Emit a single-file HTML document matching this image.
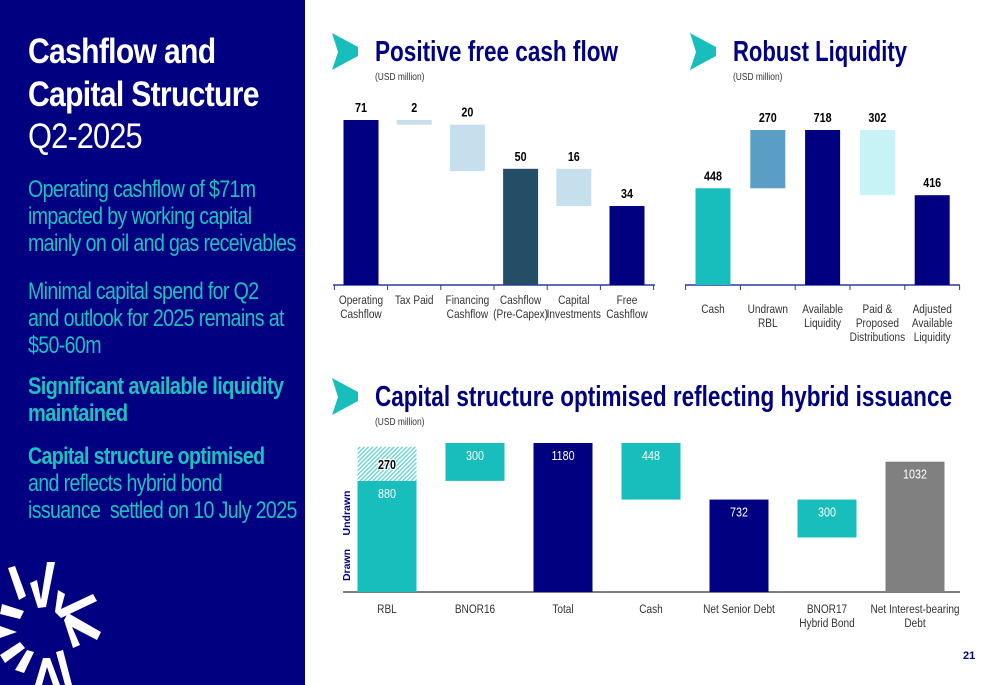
<!DOCTYPE html>
<html><head><meta charset="utf-8">
<style>
html,body{margin:0;padding:0;width:1000px;height:685px;overflow:hidden;background:#fff;font-family:"Liberation Sans",sans-serif}
#left{position:absolute;left:0;top:0;width:305px;height:685px;background:#000080;overflow:hidden}
.t{position:absolute;white-space:nowrap;transform-origin:0 0}
.title{left:28px;color:#fff;font-weight:bold;font-size:35px;letter-spacing:-0.8px;transform:scaleX(0.86)}
.q{left:28px;color:#fff;font-size:35px;letter-spacing:-1px;transform:scaleX(0.88)}
.body{left:28px;color:#1DBFBF;font-size:24.5px;letter-spacing:-0.8px;line-height:27px;transform:scaleX(0.8)}
.bold{font-weight:bold}
svg text{font-family:"Liberation Sans",sans-serif}
</style></head><body>
<div id="left">
 <div class="t title" style="top:32px">Cashflow and</div>
 <div class="t title" style="top:75px">Capital Structure</div>
 <div class="t q" style="top:117px">Q2-2025</div>
 <div class="t body" style="top:176px">Operating cashflow of $71m<br>impacted by working capital<br>mainly on oil and gas receivables</div>
 <div class="t body" style="top:278px">Minimal capital spend for Q2<br>and outlook for 2025 remains at<br>$50-60m</div>
 <div class="t body bold" style="top:373px;transform:scaleX(0.82)">Significant available liquidity<br>maintained</div>
 <div class="t body" style="top:443px"><span class="bold">Capital structure optimised</span><br>and reflects hybrid bond<br>issuance&nbsp; settled on 10 July 2025</div>
 <svg width="305" height="685" style="position:absolute;left:0;top:0">
  <g fill="#fff">
   <polygon points="8,568 15,566 26,596 19,600"/>
   <polygon points="30,583 37,580 41,600 47,562 55,562 46,607 38,608"/>
   <polygon points="58,590 65,594 61,609 93,594 97,601 61,618 55,612"/>
   <polygon points="2,604 24,611 20,619 0,614"/>
   <polygon points="0,626 17,632 0,638"/>
   <polygon points="64,620 68,613 101,632 97,640 72,627 80,645 73,648"/>
   <polygon points="0,655 20,642 25,648 5,663"/>
   <polygon points="15,670 27,650 34,652 24,673"/>
   <polygon points="35,685 43,658 50,658 60,685 53,685 47,667 42,685"/>
   <polygon points="56,652 63,650 72,685 65,685"/>
  </g>
 </svg>
</div>
<div class="t" style="left:963px;top:650px;font-size:11px;font-weight:bold;color:#000080">21</div>
<svg id="chart" width="1000" height="685" style="position:absolute;left:0;top:0"></svg>
<script>
// Chart 1: Positive free cash flow
const fcfCategories=[["Operating","Cashflow"],["Tax Paid"],["Financing","Cashflow"],["Cashflow","(Pre-Capex)"],["Capital","Investments"],["Free","Cashflow"]];
const fcfValues=[71,-2,-20,50,-16,34];
const fcfTotals=[true,false,false,true,false,true];
// Chart 2: Robust Liquidity
const liqCategories=[["Cash"],["Undrawn","RBL"],["Available","Liquidity"],["Paid &","Proposed","Distributions"],["Adjusted","Available","Liquidity"]];
const liqValues=[448,270,718,-302,416];
const liqTotals=[true,false,true,false,true];
// Chart 3: Capital structure
const capCategories=[["RBL"],["BNOR16"],["Total"],["Cash"],["Net Senior Debt"],["BNOR17","Hybrid Bond"],["Net Interest-bearing","Debt"]];
const capValues=[880,300,1180,-448,732,-300,1032];
const capTotals=[true,false,true,false,true,false,true];
const rblUndrawn=270;

const svg=document.getElementById('chart');
const NS="http://www.w3.org/2000/svg";
function mk(tag,attrs,parent){const e=document.createElementNS(NS,tag);for(const k in attrs)e.setAttribute(k,attrs[k]);(parent||svg).appendChild(e);return e;}
function txt(s,x,y,size,fill,weight,anchor,sx){
  const e=mk('text',{x:x,y:y,'font-size':size,fill:fill,'font-weight':weight||'normal','text-anchor':anchor||'middle'});
  e.textContent=s;
  const k=sx||0.86;
  e.setAttribute('transform',`matrix(${k},0,0,1,${x*(1-k)},0)`);
  return e;
}

function header(x,y,title,name,len){
  const g=mk('g',{});
  
  
  mk('polygon',{points:`${x},${y} ${x+26},${y+14} ${x+26},${y+23} ${x},${y+37} ${x+6},${y+19}`,fill:'#17BEBB'},g);
  const t=mk('text',{x:x+43,y:y+28,'font-size':29,fill:'#000080','font-weight':'bold',textLength:len,lengthAdjust:'spacingAndGlyphs'},g);
  t.textContent=title;
  const u=txt('(USD million)',x+43,y+47,10.5,'#333','normal','start',0.8);g.appendChild(u);
}
header(332,33,'Positive free cash flow','fcf',243);
header(690,33,'Robust Liquidity','liquidity',174);
header(332,378,'Capital structure optimised reflecting hybrid issuance','capital',577);

function waterfall(o){
  const y=v=>o.base-v*o.scale;
  let run=0;
  mk('line',{x1:o.ax0,x2:o.ax1,y1:o.base,y2:o.base,stroke:o.axisColor,'stroke-width':1.5});
  if(o.ticks){for(let i=0;i<=o.values.length;i++){const tx=o.x0-o.step/2+i*o.step;mk('line',{x1:tx,x2:tx,y1:o.base,y2:o.base+5,stroke:o.axisColor,'stroke-width':1});}}
  o.values.forEach((v,i)=>{
    const cx=o.x0+i*o.step;
    let top,bot;
    if(o.totals[i]){top=y(v);bot=o.base;run=v;}
    else{const nr=run+v;top=y(Math.max(run,nr));bot=y(Math.min(run,nr));run=nr;}
    const r=mk('rect',{x:cx-o.w/2,y:top,width:o.w,height:Math.max(bot-top,1),fill:o.colors[i]});
    
    
    if(o.labelsInside){txt(String(Math.abs(v)),cx,top+17,12.5,'#fff','normal');}
    else{txt(String(Math.abs(v)),cx,top-8,12.5,'#000','bold');}
    o.cats[i].forEach((l,j)=>{txt(l,cx,o.base+o.labelY+j*14,12,'#333','normal','middle',0.84);});
  });
}
waterfall({name:'fcf',values:fcfValues,totals:fcfTotals,cats:fcfCategories,base:285,scale:165/71,x0:361,step:53.2,w:35,ax0:333,ax1:655,labelY:19,ticks:true,axisColor:'#2a3a9a',
  colors:['#000080','#C5E0EC','#C5E0EC','#244E66','#C5E0EC','#000080']});
waterfall({name:'liquidity',values:liqValues,totals:liqTotals,cats:liqCategories,base:285,scale:155/718,x0:713,step:54.8,w:35,ax0:685,ax1:960,labelY:28,ticks:true,axisColor:'#2a3a9a',
  colors:['#17BEBB','#5A9EC6','#000080','#C7F3F6','#000080']});

const defs=mk('defs',{});
const pat=mk('pattern',{id:'hatch',width:3,height:3,patternUnits:'userSpaceOnUse',patternTransform:'rotate(45)'},defs);
mk('rect',{width:3,height:3,fill:'#fff'},pat);
mk('rect',{width:1.3,height:3,fill:'#5fd3d0'},pat);

waterfall({name:'capital',values:capValues,totals:capTotals,cats:capCategories,base:592,scale:149/1180,x0:387,step:88,w:59,ax0:343,ax1:960,labelY:21,labelsInside:true,ticks:false,axisColor:'#555',
  colors:['#17BEBB','#17BEBB','#000080','#17BEBB','#000080','#17BEBB','#808080']});
(function(){
  const s=149/1180, cx=387, top=592-(capValues[0]+rblUndrawn)*s, bot=592-capValues[0]*s;
  const r=mk('rect',{x:cx-29.5,y:top,width:59,height:bot-top,fill:'url(#hatch)'});
  
  
  const t=txt(String(rblUndrawn),cx,top+22,12.5,'#000','bold');
  t.setAttribute('stroke','#fff');t.setAttribute('stroke-width','2');t.setAttribute('paint-order','stroke');
})();
const d1=mk('text',{x:350,y:565,'font-size':10.5,fill:'#000080','font-weight':'bold','text-anchor':'middle',transform:'rotate(-90 350 565)'});d1.textContent='Drawn';
const d2=mk('text',{x:350,y:513,'font-size':10.5,fill:'#000080','font-weight':'bold','text-anchor':'middle',transform:'rotate(-90 350 513)'});d2.textContent='Undrawn';
</script>
</body></html>
